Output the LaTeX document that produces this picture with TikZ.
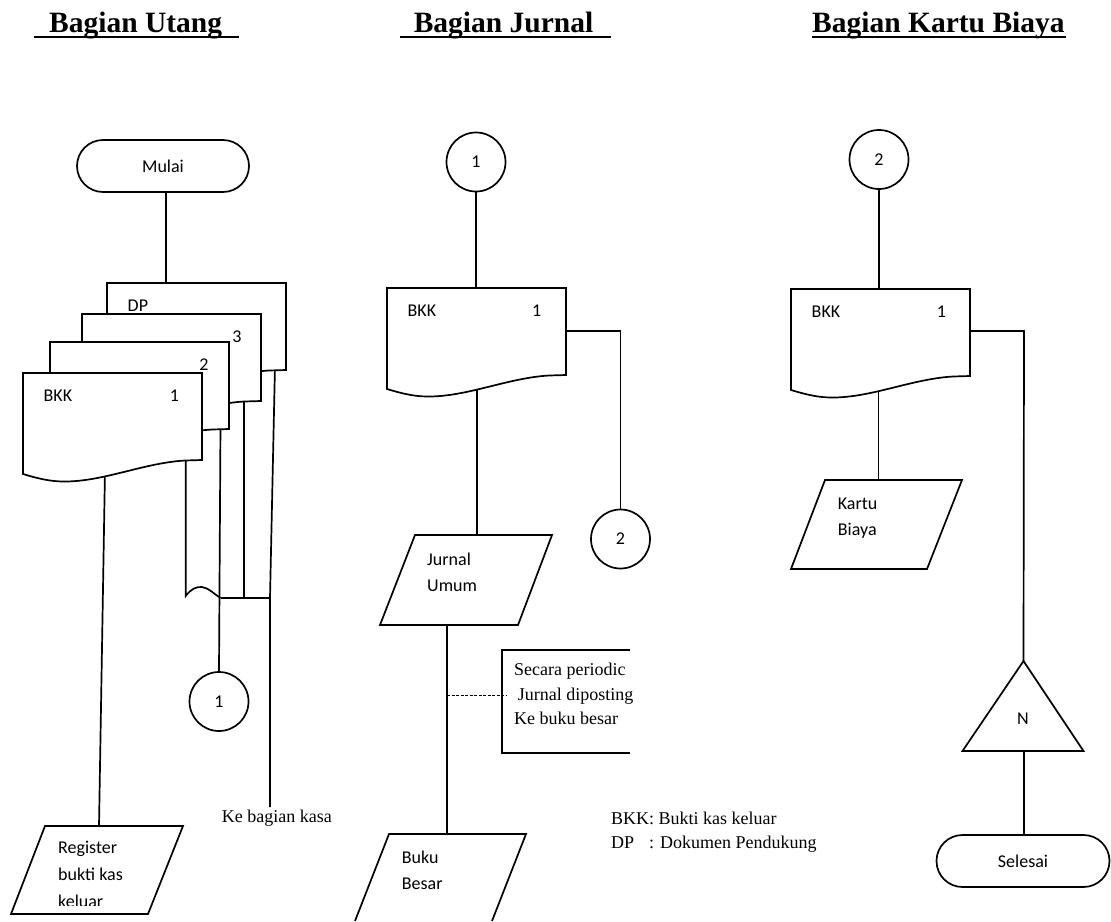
\documentclass[tikz,border=0pt]{standalone}
\usepackage{fontspec}
\setmainfont{Liberation Serif}
\newfontfamily\calibri{Carlito}
\usetikzlibrary{shapes.misc,backgrounds}
\tikzset{
  ln/.style={line width=1.7pt},
  shp/.style={draw, line width=1.7pt, fill=white},
  cal/.style={font=\calibri\fontsize{18}{21}\selectfont, inner sep=0pt},
  tnr/.style={font=\fontsize{18}{21}\selectfont, inner sep=0pt},
  ttl/.style={font=\bfseries\fontsize{29.5}{34}\selectfont, inner sep=0pt, anchor=base west},
  conn/.style={draw, circle, line width=1.7pt, minimum size=59pt, inner sep=0pt, fill=white, font=\calibri\fontsize{18}{21}\selectfont},
  term/.style={draw, rounded rectangle, line width=1.7pt, minimum height=52pt, inner sep=0pt, fill=white, font=\calibri\fontsize{18}{21}\selectfont}
}
\newcommand{\docshape}[5]{%
  \begin{scope}[shift={#2}]
    \draw[shp] (0,0) -- (179,0) -- (179,87) -- (162,87.5)
      .. controls (120,90) and (80,109) .. (40,108.5)
      .. controls (25,108.5) and (10,104) .. (0,101) -- cycle;
    \node[cal, anchor=base west] (#1-l) at (20.5,28.5) {#3};
    \node[cal, anchor=base] (#1-n) at (#5,28.5) {#4};
  \end{scope}}
\begin{document}
\begin{tikzpicture}[x=1pt, y=-1pt]
\useasboundingbox (0,0) rectangle (1111,921);

% titles
\node[ttl] (t1) at (49,32.5) {Bagian Utang};
\node[ttl] (t2) at (413.6,32.5) {Bagian Jurnal};
\node[ttl] (t3) at (812,32.5) {Bagian Kartu Biaya};
\coordinate (u1a) at (34,37); \coordinate (u1b) at (239,37);
\coordinate (u2a) at (400,37); \coordinate (u2b) at (611,37);
\coordinate (u3a) at (812,37); \coordinate (u3b) at (1066,37);
\draw[line width=2.2pt] (u1a) -- (u1b);
\draw[line width=2.2pt] (u2a) -- (u2b);
\draw[line width=2.2pt] (u3a) -- (u3b);

% ---------- Bagian Utang ----------
\node[term, minimum width=172pt] (mulai) at (163,166) {Mulai};
\docshape{d4}{(107,283)}{DP}{}{152}
\docshape{d3}{(82,314)}{}{3}{155}
\docshape{d2}{(50,342)}{}{2}{154}
\docshape{d1}{(23,373)}{BKK}{1}{151.5}
\node[conn] (c1a) at (219,701.5) {1};
\draw[ln] (45,826) coordinate (regtop-l) -- (183,826) -- (148,914) -- (11,914) -- cycle;
\coordinate (regtop) at (99,826);
\node[cal, anchor=base west] (reg1) at (58,853.3) {Register};
\node[cal, anchor=base west] (reg2) at (58,880) {bukti kas};
\begin{scope}
  \clip (40,885) rectangle (160,905.5);
  \node[cal, anchor=base west] (reg3) at (58,907) {keluar};
\end{scope}
\node[tnr, anchor=base west] (kasa) at (221.7,822.7) {Ke bagian kasa};

\coordinate (d4top) at (166,285);
\coordinate (d4out) at (275,365);
\coordinate (d3out) at (244,396);
\coordinate (d2out) at (220.5,424);
\coordinate (d1out) at (185.7,455);
\coordinate (d1reg) at (105,470);
\coordinate (j1) at (220.5,598);
\coordinate (j2) at (244,598);
\coordinate (j3) at (270,598);
\coordinate (kasaend) at (270,807);
\coordinate (bumpa) at (185.7,596);

% ---------- Bagian Jurnal ----------
\node[conn] (c1b) at (476,162) {1};
\docshape{dm}{(387,288)}{BKK}{1}{149.7}
\node[conn] (c2b) at (620.5,539) {2};
\draw[ln] (415,535) coordinate (ju-tl) -- (552,535) -- (518,625) -- (380,625) -- cycle;
\node[cal, anchor=base west] (ju1) at (427,565) {Jurnal};
\node[cal, anchor=base west] (ju2) at (427,591.5) {Umum};
\draw[ln] (355,921) -- (389,834) -- (526,834) -- (492,921);
\node[cal, anchor=base west] (bb1) at (401.7,863.3) {Buku};
\node[cal, anchor=base west] (bb2) at (401.7,889.3) {Besar};
\coordinate (br1) at (630,650); \coordinate (br2) at (502,650);
\coordinate (br3) at (502,753); \coordinate (br4) at (630,753);
\draw[ln] (br1) -- (br2) -- (br3) -- (br4);
\node[tnr, anchor=base west] (an1) at (514,675.7) {Secara periodic};
\node[tnr, anchor=base west] (an2) at (517.7,700) {Jurnal diposting};
\node[tnr, anchor=base west] (an3) at (514,724) {Ke buku besar};
\node[tnr, anchor=base west] (lg1) at (611,824) {BKK: Bukti kas keluar};
\node[tnr, anchor=base west] (lg2) at (611,848) {\makebox[38pt][l]{DP}: Dokumen Pendukung};

\coordinate (dmtop) at (476,290);
\coordinate (dmright) at (564,331);
\coordinate (dmcorner) at (620.5,331);
\coordinate (dmbot) at (477,385);
\coordinate (jutop) at (477,535);
\coordinate (jubot) at (447,625);
\coordinate (bbtop) at (447,834);
\coordinate (dash1) at (447,695);
\coordinate (dash2) at (507,695);

% ---------- Bagian Kartu Biaya ----------
\node[conn] (c2c) at (879,159.5) {2};
\docshape{dr}{(791,289)}{BKK}{1}{150.3}
\draw[ln] (825,480) -- (962,480) -- (927,569) -- (791,569) -- cycle;
\node[cal, anchor=base west] (kb1) at (837.7,509.3) {Kartu};
\node[cal, anchor=base west] (kb2) at (837.7,535) {Biaya};
\coordinate (triapex) at (1023.5,661);
\coordinate (tribase) at (1024,751);
\draw[ln, line join=miter] (triapex) -- (1083.5,751) -- (962.5,751) -- cycle;
\node[cal] (nn) at (1023,719) {N};
\node[term, minimum width=173pt] (selesai) at (1023,861) {Selesai};

\coordinate (drtop) at (879,291);
\coordinate (drright) at (968,331);
\coordinate (drcorner) at (1024,331);
\coordinate (drbot) at (878.5,385);
\coordinate (kbtop) at (878.5,480);

% ---------- connectors ----------
\begin{pgfonlayer}{background}
\draw[ln] ([xshift=3pt]mulai.south) -- (d4top);
\draw[ln] (d4out) -- (j3) -- (kasaend);
\draw[ln] (d3out) -- (j2);
\draw[ln] (d2out) -- (c1a.north);
\draw[ln] (j1) -- (j3);
\draw[ln] (d1out) -- (bumpa)
   .. controls (191,589) and (196,586.5) .. (202,587)
   .. controls (209,588) and (214,594) .. (j1);
\draw[ln] (d1reg) -- (regtop);

\draw[ln] (c1b.south) -- (dmtop);
\draw[ln] (dmright) -- (dmcorner) -- (c2b.north);
\draw[ln] (dmbot) -- (jutop);
\draw[ln] (jubot) -- (bbtop);
\draw[line width=0.8pt, dashed, dash pattern=on 3pt off 1.5pt] (dash1) -- (dash2);

\draw[ln] (c2c.south) -- (drtop);
\draw[ln] (drright) -- (drcorner) -- (triapex);
\draw[ln] (drbot) -- (kbtop);
\draw[ln] (tribase) -- (selesai.north -| tribase);
\end{pgfonlayer}
\end{tikzpicture}
\end{document}
